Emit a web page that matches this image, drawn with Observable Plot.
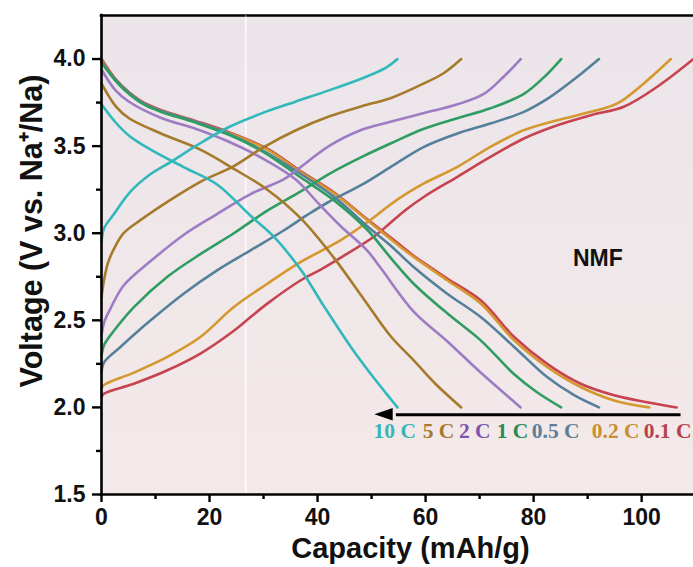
<!DOCTYPE html>
<html><head><meta charset="utf-8">
<script src="https://cdn.jsdelivr.net/npm/d3@7"></script>
<script src="https://cdn.jsdelivr.net/npm/@observablehq/plot@0.6"></script>
<style>html,body{margin:0;padding:0;background:#fff;} svg{display:block;}</style>
</head><body><div id="chart"></div>
<script>
// ---- categories ----
const rates = ["10 C", "5 C", "2 C", "1 C", "0.5 C", "0.2 C", "0.1 C"];
const lineColors = ["#30b8bb", "#a67a2b", "#9d7cc4", "#2f9d63", "#55809b", "#d4982f", "#c7434f"];
const labelColors = ["#3ab5b6", "#a8792c", "#7c56ab", "#2b8b52", "#5b7f98", "#c98f2f", "#b8404b"];

// ---- charge curves (capacity mAh/g, voltage V) ----
const charge10X = [0, 0.5, 2.3, 5.4, 9.1, 13.4, 17.4, 23.6, 29.8, 35.9, 42.1, 48.3, 52.6, 54.8];
const charge10V = [2.95, 3.03, 3.11, 3.24, 3.34, 3.42, 3.50, 3.61, 3.69, 3.755, 3.82, 3.89, 3.95, 4.0];
const charge5X = [0, 0.4, 1.2, 2.3, 4.1, 7.2, 12.2, 18.3, 24.5, 29.8, 35.9, 42.1, 48.3, 53.5, 59.7, 63.4, 66.6];
const charge5V = [2.63, 2.72, 2.83, 2.91, 3.0, 3.075, 3.18, 3.295, 3.385, 3.49, 3.59, 3.67, 3.73, 3.775, 3.86, 3.92, 4.0];
const charge2X = [0, 0.5, 1.7, 4.1, 9.1, 15.2, 21.4, 27.6, 33.8, 36.9, 42.1, 48.3, 53.5, 59.7, 65.9, 70.8, 74.5, 77.6];
const charge2V = [2.41, 2.49, 2.57, 2.70, 2.84, 2.99, 3.11, 3.225, 3.31, 3.38, 3.50, 3.595, 3.64, 3.69, 3.74, 3.80, 3.90, 4.0];
const charge1X = [0, 0.5, 2.3, 6, 12.2, 18.3, 24.5, 30.7, 36.9, 42.1, 48.3, 53.5, 59.7, 65.9, 72, 78.2, 81.9, 85.1];
const charge1V = [2.30, 2.36, 2.44, 2.576, 2.75, 2.88, 3.0, 3.13, 3.24, 3.34, 3.44, 3.515, 3.60, 3.66, 3.717, 3.80, 3.895, 4.0];
const charge05X = [0, 0.5, 3.5, 9.1, 15.2, 21.4, 27.6, 33.8, 38.1, 41.8, 48.3, 53.5, 59.7, 65.9, 72, 78.2, 83.1, 88.1, 92.1];
const charge05V = [2.20, 2.26, 2.347, 2.50, 2.653, 2.787, 2.902, 3.017, 3.105, 3.175, 3.28, 3.38, 3.496, 3.573, 3.63, 3.697, 3.783, 3.898, 4.0];
const charge02X = [0, 0.5, 6, 12.2, 18.3, 24.5, 30.7, 36.9, 44.3, 50.4, 53.5, 56.6, 59.7, 65.9, 72, 78.2, 84.4, 90.6, 95.5, 100.4, 105.4];
const charge02V = [2.11, 2.13, 2.20, 2.29, 2.404, 2.576, 2.71, 2.835, 2.96, 3.09, 3.165, 3.23, 3.286, 3.381, 3.496, 3.592, 3.649, 3.697, 3.745, 3.86, 4.0];
const charge01X = [0, 0.5, 6, 12.2, 18.3, 24.5, 27.6, 30.7, 36.9, 40.5, 44.3, 50.4, 53.5, 56.6, 60, 65.9, 72, 78.2, 84.4, 90.6, 96.7, 102.9, 109.6];
const charge01V = [2.06, 2.08, 2.136, 2.213, 2.309, 2.44, 2.519, 2.596, 2.73, 2.79, 2.86, 2.98, 3.06, 3.14, 3.215, 3.324, 3.438, 3.544, 3.62, 3.678, 3.726, 3.841, 4.0];

// ---- discharge curves ----
const dis10X = [0, 2.5, 5.1, 9.1, 15.2, 21.4, 27.6, 31.9, 36.9, 41.2, 46.1, 50.4, 53.5, 54.8];
const dis10V = [3.74, 3.64, 3.56, 3.48, 3.38, 3.28, 3.10, 2.98, 2.79, 2.58, 2.35, 2.17, 2.05, 2.0];
const dis5X = [0, 2.6, 5.1, 11.2, 18.3, 24.5, 30.7, 36.9, 43, 48.6, 53.5, 57.8, 62, 66.6];
const dis5V = [3.86, 3.73, 3.66, 3.57, 3.48, 3.37, 3.25, 3.085, 2.86, 2.62, 2.41, 2.27, 2.13, 2.0];
const dis2X = [0, 2.6, 5.1, 11.2, 17.4, 23.6, 29.8, 35.9, 40.2, 44.3, 49.2, 51.7, 57.8, 64, 70.2, 77.6];
const dis2V = [3.94, 3.82, 3.755, 3.66, 3.60, 3.525, 3.43, 3.31, 3.17, 3.04, 2.90, 2.80, 2.55, 2.38, 2.20, 2.0];
const dis1X = [0, 2.6, 5.1, 8.1, 11.2, 17.4, 23.6, 29.8, 36.9, 43, 49.2, 53.5, 57.8, 64, 70.2, 76.4, 80.5, 85.1];
const dis1V = [3.98, 3.875, 3.80, 3.735, 3.695, 3.635, 3.565, 3.47, 3.32, 3.19, 3.02, 2.86, 2.71, 2.54, 2.385, 2.19, 2.09, 2.0];
const dis05X = [0, 2.6, 5.1, 8.1, 11.2, 17.4, 23.6, 29.8, 36.9, 43, 49.2, 53.5, 57.8, 64, 70.2, 76.4, 82.5, 87.5, 92.1];
const dis05V = [3.985, 3.88, 3.805, 3.74, 3.70, 3.64, 3.57, 3.475, 3.34, 3.21, 3.04, 2.93, 2.806, 2.653, 2.519, 2.347, 2.174, 2.07, 2.0];
const dis02X = [0, 2.6, 5.1, 8.1, 11.2, 17.4, 23.6, 30.7, 36.9, 43, 49.2, 55.4, 57.8, 64, 70.2, 76.4, 82.5, 88.7, 94.9, 101.4];
const dis02V = [3.99, 3.88, 3.805, 3.74, 3.70, 3.64, 3.575, 3.48, 3.35, 3.23, 3.075, 2.92, 2.864, 2.73, 2.596, 2.385, 2.232, 2.117, 2.04, 2.0];
const dis01X = [0, 2.6, 5.1, 8.1, 11.2, 17.4, 23.6, 30.7, 36.9, 43, 49.2, 55.4, 57.8, 64, 70.2, 76.4, 82.5, 88.7, 94.9, 101, 106.5];
const dis01V = [4.0, 3.885, 3.81, 3.745, 3.705, 3.645, 3.58, 3.485, 3.355, 3.235, 3.08, 2.93, 2.87, 2.74, 2.615, 2.404, 2.25, 2.136, 2.07, 2.03, 2.0];

// ---- ticks ----
const xMajorTicks = [0, 20, 40, 60, 80, 100];
const xMinorTicks = [10, 30, 50, 70, 90];
const yMajorTicks = [1.5, 2.0, 2.5, 3.0, 3.5, 4.0];
const yMinorTicks = [1.75, 2.25, 2.75, 3.25, 3.75];

// ---- annotations ----
const rateLabelX = [54.3, 62.4, 69.1, 76.1, 84.1, 95.2, 104.8];
const rateLabelV = 1.862;
const arrowStartX = 107.2, arrowBaseX = 54.0, arrowTipX = 50.6, arrowV = 1.958, arrowHalf = 0.036;
const sampleName = "NMF", sampleX = 91.9, sampleV = 2.856;
const seamX = 26.7;

const charges = [[charge10X, charge10V], [charge5X, charge5V], [charge2X, charge2V], [charge1X, charge1V],
                 [charge05X, charge05V], [charge02X, charge02V], [charge01X, charge01V]];
const discharges = [[dis10X, dis10V], [dis5X, dis5V], [dis2X, dis2V], [dis1X, dis1V],
                    [dis05X, dis05V], [dis02X, dis02V], [dis01X, dis01V]];

const rows = [];
// draw order: 0.1 C first, 10 C last
for (let i = rates.length - 1; i >= 0; i--) {
  [["charge", charges[i]], ["discharge", discharges[i]]].forEach(([kind, [xs, vs]]) => {
    xs.forEach((x, j) => rows.push({rate: rates[i], key: rates[i] + kind, x, v: vs[j]}));
  });
}
const labelRows = rates.map((r, i) => ({rate: r, x: rateLabelX[i], v: rateLabelV, color: labelColors[i]}));
const arrowTri = [{x: arrowTipX, y1: arrowV, y2: arrowV}, {x: arrowBaseX, y1: arrowV - arrowHalf, y2: arrowV + arrowHalf}];

const sans = "'Liberation Sans', Arial, Helvetica, sans-serif";
const serif = "'Liberation Serif', 'Times New Roman', serif";

const svg = Plot.plot({
  width: 693, height: 567,
  marginLeft: 101, marginRight: 0, marginTop: 15, marginBottom: 73,
  x: {domain: [0, 109.6]},
  y: {domain: [1.5, 4.25]},
  color: {domain: rates, range: lineColors},
  style: {fontFamily: sans, background: "#ffffff", overflow: "visible"},
  marks: [
    Plot.frame({fill: "url(#bgGrad)", stroke: "none"}),
    Plot.ruleX([seamX], {stroke: "#ffffff", strokeWidth: 1.5, strokeOpacity: 0.85}),
    Plot.line(rows, {x: "x", y: "v", z: "key", stroke: "rate", strokeWidth: 2.6, curve: "catmull-rom", strokeLinejoin: "round", strokeLinecap: "round"}),
    Plot.link([0], {x1: () => arrowStartX, x2: () => arrowBaseX + 0.5, y1: () => arrowV, y2: () => arrowV, stroke: "#000", strokeWidth: 3}),
    Plot.areaY(arrowTri, {x: "x", y1: "y1", y2: "y2", fill: "#000"}),
    Plot.text(labelRows, {x: "x", y: "v", text: "rate", fill: "color", fontFamily: serif, fontWeight: "bold", fontSize: 21.5, textAnchor: "middle", lineAnchor: "middle"}),
    Plot.text([sampleName], {x: () => sampleX, y: () => sampleV, text: d => d, fontWeight: "bold", fontSize: 23, fill: "#111", lineAnchor: "middle"}),
    // axes lines
    Plot.ruleY([1.5], {stroke: "#000", strokeWidth: 2.6, strokeLinecap: "square"}),
    Plot.ruleY([4.25], {stroke: "#000", strokeWidth: 2.6, strokeLinecap: "square"}),
    Plot.ruleX([0], {stroke: "#000", strokeWidth: 2.6, strokeLinecap: "square"}),
    Plot.ruleX([seamX], {y1: 4.15, y2: 4.25, stroke: "#ffffff", strokeWidth: 1.2, strokeOpacity: 0.5}),
    Plot.axisX({ticks: xMajorTicks, tickSize: 8, tickPadding: 6, tickFormat: d3.format("d"), fontSize: 23, fontWeight: "bold", fill: "#111", stroke: "#000", strokeWidth: 2.4, label: null}),
    Plot.axisX({ticks: xMinorTicks, tickSize: 5, tickFormat: () => "", stroke: "#000", strokeWidth: 2.4, label: null}),
    Plot.axisY({ticks: yMajorTicks, tickSize: 9, tickPadding: 7, tickFormat: d3.format(".1f"), fontSize: 23, fontWeight: "bold", fill: "#111", stroke: "#000", strokeWidth: 2.4, label: null}),
    Plot.axisY({ticks: yMinorTicks, tickSize: 5, tickFormat: () => "", stroke: "#000", strokeWidth: 2.4, label: null}),
    Plot.text(["Capacity (mAh/g)"], {frameAnchor: "bottom", dx: 13, dy: 54, text: d => d, fontWeight: "bold", fontSize: 29, fill: "#111", textAnchor: "middle", lineAnchor: "middle"}),
    Plot.text(["Voltage (V vs. Na⁺/Na)"], {frameAnchor: "left", dx: -69, dy: -24, rotate: -90, text: d => d, fontWeight: "bold", fontSize: 30.5, fill: "#111", textAnchor: "middle", lineAnchor: "middle"})
  ]
});

const defs = d3.select(svg).insert("defs", ":first-child");
const grad = defs.append("linearGradient").attr("id", "bgGrad").attr("x1", 0).attr("y1", 0).attr("x2", 0).attr("y2", 1);
grad.append("stop").attr("offset", "0%").attr("stop-color", "#ebe5ea");
grad.append("stop").attr("offset", "100%").attr("stop-color", "#f4e9e9");

document.getElementById("chart").appendChild(svg);
</script>
</body></html>
